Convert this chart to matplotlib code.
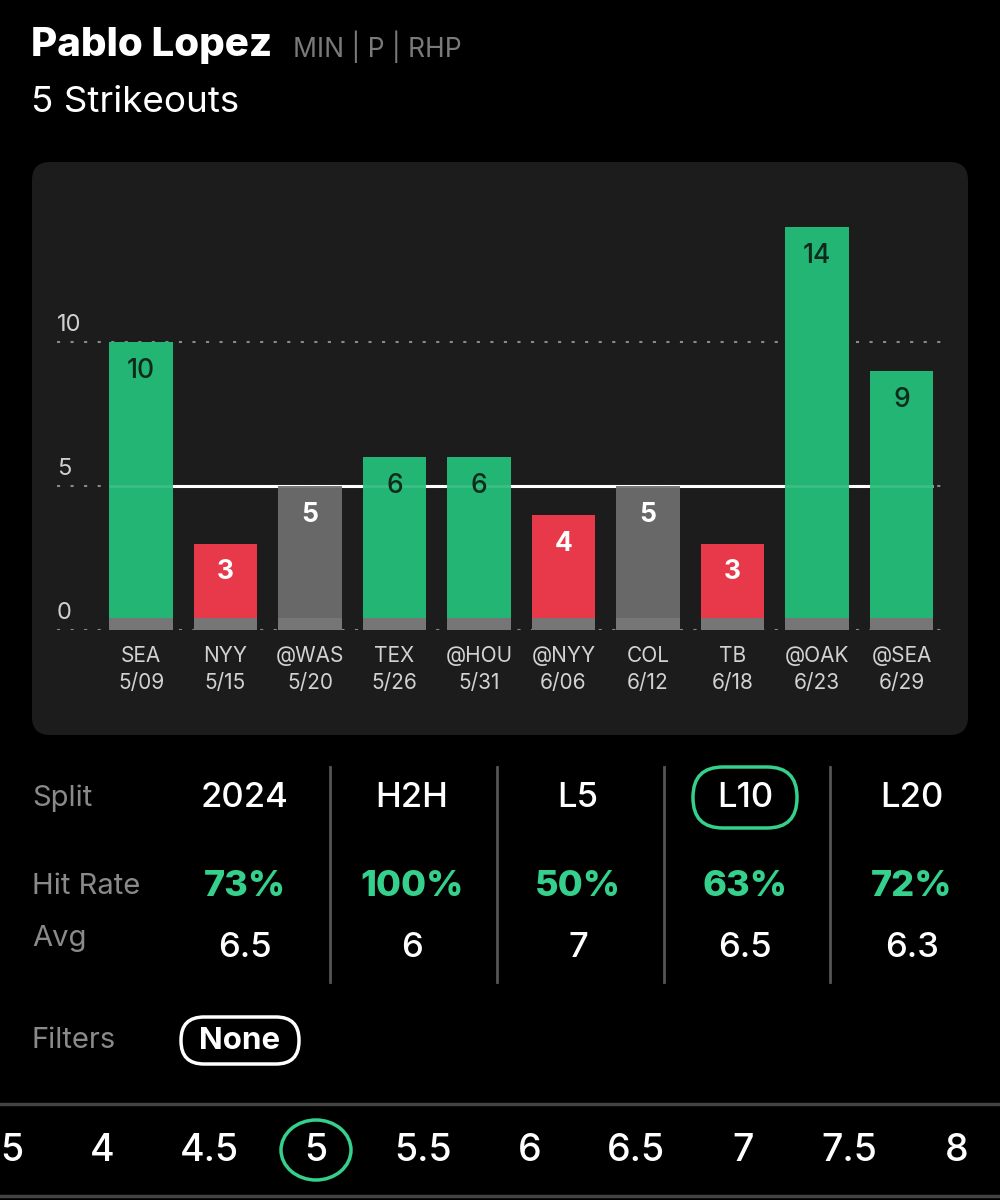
import matplotlib
matplotlib.use("Agg")
import matplotlib.pyplot as plt
from matplotlib.patches import FancyBboxPatch, Ellipse

plt.rcParams['font.family'] = ['Inter', 'DejaVu Sans']

# ---- data ----
player = "Pablo Lopez"
player_info = "MIN | P | RHP"
prop_title = "5 Strikeouts"
line_value = 5
opponents = ["SEA", "NYY", "@WAS", "TEX", "@HOU", "@NYY", "COL", "TB", "@OAK", "@SEA"]
dates = ["5/09", "5/15", "5/20", "5/26", "5/31", "6/06", "6/12", "6/18", "6/23", "6/29"]
strikeouts = [10, 3, 5, 6, 6, 4, 5, 3, 14, 9]
y_ticks = [0, 5, 10]

split_names = ["2024", "H2H", "L5", "L10", "L20"]
hit_rates = ["73%", "100%", "50%", "63%", "72%"]
averages = ["6.5", "6", "7", "6.5", "6.3"]
selected_split = "L10"
filters = "None"
line_options = ["3.5", "4", "4.5", "5", "5.5", "6", "6.5", "7", "7.5", "8"]
selected_line = "5"

GREEN = "#22b573"
RED = "#e8394a"
GREY = "#686868"
STRIP = "#767676"
HIT_GREEN = "#34d08c"

fig = plt.figure(figsize=(10, 12), dpi=100, facecolor="black")

bg = fig.add_axes([0, 0, 1, 1], zorder=0)
bg.set_xlim(0, 1000)
bg.set_ylim(1200, 0)
bg.axis("off")
bg.set_facecolor("black")

# header
bg.text(31, 45, player, color="white", fontsize=29, fontweight="heavy", va="center", ha="left")
bg.text(293, 47, player_info, color="#7a7a7a", fontsize=19, va="center", ha="left")
bg.text(31, 103, prop_title, color="white", fontsize=26.5, va="center", ha="left")

# chart panel
panel = FancyBboxPatch((32, 162), 936, 573, boxstyle="round,pad=0,rounding_size=18",
                       facecolor="#1c1c1c", edgecolor="none")
bg.add_patch(panel)

# chart axes
px_per_unit = 28.8
ax_left, ax_right = 57, 945
y0_px = 630
ymax = 14.2
ax_h = ymax * px_per_unit
ax = fig.add_axes([ax_left / 1000, (1200 - y0_px) / 1200, (ax_right - ax_left) / 1000, ax_h / 1200], zorder=1)
ax.set_facecolor("none")
spacing = 84.5
x_first = 141
ax.set_xlim((ax_left - x_first) / spacing, (ax_right - x_first) / spacing)
ax.set_ylim(0, ymax)
ax.axis("off")

n = len(strikeouts)
xs = list(range(n))
bw = 0.757
colors = [GREEN if v > line_value else (GREY if v == line_value else RED) for v in strikeouts]

for t in y_ticks:
    ax.axhline(t, color="#8a8a8a", lw=1.5, linestyle=(0, (1.5, 5)), zorder=1)
    ax.text(ax.get_xlim()[0], t + 0.22, str(t), color="#d0d0d0", fontsize=17, ha="left", va="bottom")
ax.hlines(line_value, -bw / 2, n - 1 + bw / 2, color="white", lw=2.2, zorder=2)

ax.bar(xs, strikeouts, width=bw, color=colors, zorder=3)
ax.bar(xs, [0.42] * n, width=bw, color=STRIP, zorder=4)
ax.hlines(line_value, -bw / 2, n - 1 + bw / 2, color="white", lw=2.0, alpha=0.12, zorder=5)

for x, v, c in zip(xs, strikeouts, colors):
    if c == GREEN:
        ax.text(x, v - 1.0, str(v), color="#0f2a1d", fontsize=19, fontweight="medium",
                ha="center", va="center", zorder=6)
    else:
        ax.text(x, v - 1.0, str(v), color="white", fontsize=19, fontweight="bold",
                ha="center", va="center", zorder=6)

# x labels
for i, (o, d) in enumerate(zip(opponents, dates)):
    xp = x_first + spacing * i
    bg.text(xp, 656, o, color="#d2d2d2", fontsize=15, ha="center", va="center")
    bg.text(xp, 683, d, color="#d2d2d2", fontsize=15, ha="center", va="center")

# stats table
col_x = [245, 412, 578, 745, 912]
for sx in [330, 497, 664, 830]:
    bg.plot([sx, sx], [767, 982], color="#555555", lw=2)
bg.text(32, 798, "Split", color="#8a8a8a", fontsize=21, ha="left", va="center")
bg.text(32, 886, "Hit Rate", color="#8a8a8a", fontsize=21, ha="left", va="center")
bg.text(32, 938, "Avg", color="#8a8a8a", fontsize=21, ha="left", va="center")
for cx, s, h, a in zip(col_x, split_names, hit_rates, averages):
    bg.text(cx, 798, s, color="white", fontsize=25, ha="center", va="center", fontweight="medium")
    bg.text(cx, 886, h, color=HIT_GREEN, fontsize=26, ha="center", va="center", fontweight="heavy")
    bg.text(cx, 948, a, color="white", fontsize=25, ha="center", va="center", fontweight="medium")
    if s == selected_split:
        pill = FancyBboxPatch((cx - 52, 767), 104, 61, boxstyle="round,pad=0,rounding_size=30",
                              facecolor="none", edgecolor=HIT_GREEN, lw=2.5)
        bg.add_patch(pill)

# filters
bg.text(32, 1040, "Filters", color="#8a8a8a", fontsize=21, ha="left", va="center")
fpill = FancyBboxPatch((181, 1017), 118, 47, boxstyle="round,pad=0,rounding_size=23",
                       facecolor="none", edgecolor="white", lw=2.5)
bg.add_patch(fpill)
bg.text(240, 1041, filters, color="white", fontsize=22.5, fontweight="bold", ha="center", va="center")

# line selector
bg.plot([0, 1000], [1104, 1104], color="#444444", lw=2.5)
bg.plot([0, 1000], [1196, 1196], color="#444444", lw=2.5)
sel_idx = line_options.index(selected_line)
step = 106.7
for i, lv in enumerate(line_options):
    xp = 316 + (i - sel_idx) * step
    bg.text(xp, 1151, lv, color="white", fontsize=27, ha="center", va="center", fontweight="medium")
    if lv == selected_line:
        bg.add_patch(Ellipse((xp, 1150), 70, 60, facecolor="none", edgecolor=HIT_GREEN, lw=2.5))

fig.savefig("out.png", dpi=100, facecolor="black")
